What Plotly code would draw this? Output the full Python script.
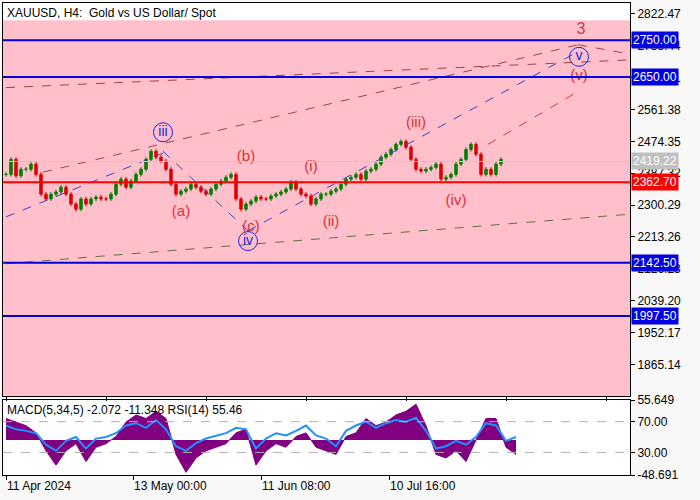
import plotly.graph_objects as go
from plotly.subplots import make_subplots

# closes every 5 bars (4H bars)
closes = [2384,2425,2380,2398,2398,2412,2384,2330,2317,2330,2336,2349,2330,2303,2289,2317,2303,2317,2322,2317,2317,2330,2357,2371,2349,2366,2384,2398,2425,2447,2431,2420,2398,2357,2330,2338,2344,2357,2349,2338,2330,2344,2357,2366,2376,2384,2317,2289,2303,2311,2322,2317,2317,2325,2330,2336,2344,2363,2344,2330,2325,2303,2317,2330,2330,2338,2344,2357,2371,2376,2384,2371,2393,2398,2412,2431,2439,2452,2466,2474,2458,2425,2398,2393,2398,2403,2412,2371,2376,2384,2412,2425,2452,2466,2439,2384,2398,2384,2412,2425]
macd_x = list(range(0, 520, 10))
macd = [30,25,20,10,-15,-35,-15,-5,-30,-10,-5,5,25,35,30,40,30,-20,-45,-25,-15,-10,-5,10,15,-35,-15,-5,-10,5,10,-10,-15,-20,5,10,30,20,25,35,40,50,20,-20,-25,-15,-30,0,30,30,-10,-20]
rsi = [65,60,58,55,40,32,45,50,35,48,50,55,65,68,62,72,60,38,32,42,48,52,55,62,60,35,48,55,52,58,65,52,48,38,58,65,70,62,68,72,70,75,58,35,38,45,40,50,68,65,45,50]
date_ticks = [0, 127, 255, 383]
date_labels = ["11 Apr 2024", "13 May 00:00", "11 Jun 08:00", "10 Jul 16:00"]
price_ticks = [2822.47,2735.44,2648.41,2561.38,2474.35,2387.32,2300.29,2213.26,2126.23,2039.20,1952.17,1865.14]
levels = [(2750.00,"blue"),(2650.00,"blue"),(2362.70,"red"),(2142.50,"blue"),(1997.50,"blue")]
last_price = 2419.22
blue_waves = [("iii",157,2499),("iv",242,2202),("v",573,2705)]
red_waves = [("(a)",175,2281),("(b)",240,2431),("(c)",245,2240),("(i)",305,2404),("(ii)",325,2254),
             ("(iii)",410,2523),("(iv)",450,2311),("(v)",573,2651)]
trend_lines = [((0,2621),(627,2697),"#a04040","dash"),
               ((0,2268),(157,2442),"#4040c0","dash"),
               ((37,2390),(572,2738),"#a04040","dash"),
               ((157,2447),(242,2230),"#4040c0","dash"),
               ((242,2230),(572,2719),"#4040c0","dash"),
               ((572,2738),(627,2711),"#a04040","dash"),
               ((0,2140),(627,2276),"#607040","dash"),
               ((482,2466),(572,2610),"#c04040","dash")]

FONT = "Liberation Sans"
fig = make_subplots(rows=2, cols=1, row_heights=[0.84,0.16], vertical_spacing=0.008, shared_xaxes=True)

xs = [i*5 for i in range(len(closes))]
opens = [closes[0]] + closes[:-1]
highs = [max(o,c)+6 for o,c in zip(opens,closes)]
lows = [min(o,c)-6 for o,c in zip(opens,closes)]
fig.add_trace(go.Candlestick(x=xs, open=opens, high=highs, low=lows, close=closes,
    increasing=dict(line=dict(color="#008000",width=1),fillcolor="#008000"),
    decreasing=dict(line=dict(color="#e00000",width=1),fillcolor="#e00000"),
    whiskerwidth=0, showlegend=False), row=1, col=1)

for (x0,y0),(x1,y1),c,d in trend_lines:
    fig.add_trace(go.Scatter(x=[x0,x1], y=[y0,y1], mode="lines", line=dict(color=c,width=1,dash=d),
                             showlegend=False, hoverinfo="skip"), row=1, col=1)

fig.add_trace(go.Scatter(x=[w[1] for w in blue_waves], y=[w[2] for w in blue_waves], mode="markers+text",
    text=[w[0] for w in blue_waves], textposition="middle center",
    marker=dict(symbol="circle-open", size=19, color="#2020e0", line=dict(width=1)),
    textfont=dict(color="#2020e0", size=14, family=FONT), showlegend=False), row=1, col=1)
fig.add_trace(go.Scatter(x=[w[1] for w in red_waves], y=[w[2] for w in red_waves], mode="text",
    text=[w[0] for w in red_waves], textfont=dict(color="#e03030", size=15, family=FONT),
    showlegend=False), row=1, col=1)
fig.add_trace(go.Scatter(x=[575], y=[2779], mode="text", text=["3"],
    textfont=dict(color="#c04040", size=16, family=FONT), showlegend=False), row=1, col=1)

# MACD + RSI
fig.add_trace(go.Scatter(x=macd_x, y=macd, mode="lines", fill="tozeroy", line=dict(color="#800080",width=1),
    fillcolor="#800080", showlegend=False), row=2, col=1)
rsi_y = [1.07*r - 49.3 for r in rsi]
fig.add_trace(go.Scatter(x=macd_x, y=rsi_y, mode="lines", line=dict(color="#1e90ff",width=2), showlegend=False), row=2, col=1)

fig.add_shape(type="rect", xref="x", yref="y", x0=-3, x1=624, y0=1770, y1=2805,
              fillcolor="#ffc0cb", line_width=0, layer="below")
fig.add_hline(y=last_price, line=dict(color="#c8c8c8", width=1), row=1, col=1)
for v,c in levels:
    fig.add_hline(y=v, line=dict(color="#0000e0" if c=="blue" else "#ff0000", width=2), row=1, col=1)
for v in [25.6, -17.2]:
    fig.add_hline(y=v, line=dict(color="#b0b0b0", width=1, dash="dash"), row=2, col=1)

def tag(y, text, bg, fg="white", yref="y"):
    fig.add_annotation(xref="paper", x=1.0, xanchor="left", xshift=1, yref=yref, y=y, text=text,
        showarrow=False, bgcolor=bg, font=dict(color=fg, size=12, family=FONT), borderpad=1)
for v,c in levels:
    tag(v, f"{v:.2f}", "#0000e0" if c=="blue" else "#ff0000")
tag(last_price, f"{last_price:.2f}", "#c0c0c0")

fig.add_annotation(xref="paper", yref="paper", x=0.003, y=0.998, xanchor="left", yanchor="top",
    text="XAUUSD, H4:  Gold vs US Dollar/ Spot", showarrow=False, font=dict(size=12, color="black", family=FONT))
fig.add_annotation(xref="x2 domain", yref="y2 domain", x=0.003, y=0.99, xanchor="left", yanchor="top",
    text="MACD(5,34,5) -2.072 -11.348 RSI(14) 55.46", showarrow=False, font=dict(size=12, color="black", family=FONT))

axis_common = dict(showgrid=False, zeroline=False, showline=True, linecolor="black", mirror=True,
                   ticks="outside", ticklen=4, tickcolor="black", tickfont=dict(size=12, family=FONT, color="black"))
fig.update_xaxes(range=[-3,624], rangeslider_visible=False, **axis_common)
fig.update_xaxes(showticklabels=False, row=1, col=1)
fig.update_xaxes(tickvals=date_ticks, ticktext=date_labels, ticklabelposition="outside right", row=2, col=1)
fig.update_yaxes(side="right", **axis_common)
fig.update_yaxes(range=[1778,2852], tickvals=price_ticks, ticktext=[f"{p:.2f}" for p in price_ticks], row=1, col=1)
fig.update_yaxes(range=[-48.691,55.649], tickvals=[55.649,25.6,-17.2,-48.691],
                 ticktext=["55.649","70.00","30.00","-48.691"], row=2, col=1)

fig.update_layout(width=700, height=500, margin=dict(l=3, r=70, t=3, b=25, autoexpand=False),
                  paper_bgcolor="#f8f8f8", plot_bgcolor="white", hovermode=False)
fig.write_html("out.html", config={"displayModeBar": False}, post_script="document.body.style.margin='0px';")
